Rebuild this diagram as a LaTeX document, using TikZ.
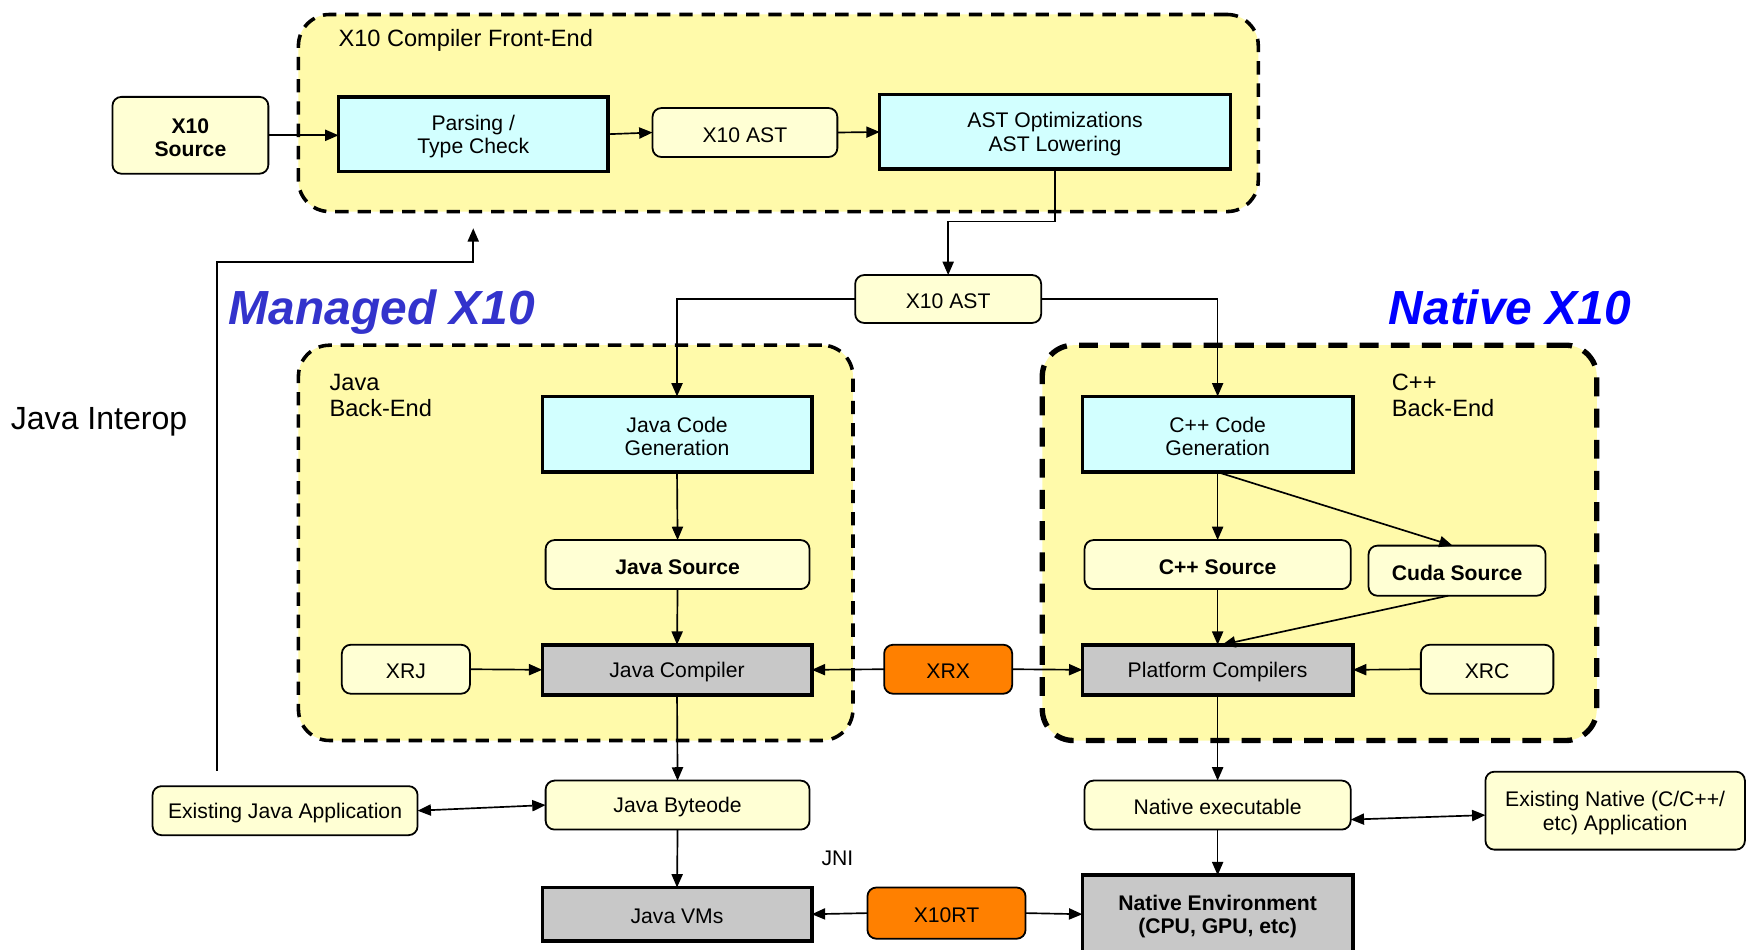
\documentclass[tikz,border=0pt]{standalone}
\usepackage{fontspec}
\setmainfont{Liberation Sans}
\usetikzlibrary{arrows.meta,calc}
\definecolor{contfill}{RGB}{255,250,170}
\definecolor{cream}{RGB}{255,255,212}
\definecolor{cyanfill}{RGB}{210,255,255}
\definecolor{grayfill}{RGB}{200,200,200}
\definecolor{orangefill}{RGB}{255,128,0}
\definecolor{managedblue}{RGB}{51,51,204}
\definecolor{nativeblue}{RGB}{0,0,255}
\newcommand\mybox[7]{%
  \node[#2, minimum width={(#5-#3)*0.5pt}, minimum height={(#6-#4)*0.5pt}]
    (#1) at ({(#3+#5)/2},{(#4+#6)/2}) {};
  \node[#2, draw=none, fill=none, minimum width=0pt, minimum height=0pt, yshift=-1pt]
    (#1-text) at (#1.center) {#7};}
\tikzset{
  every node/.style={inner sep=0pt, outer sep=0pt, align=center,
    font=\fontsize{9.5}{10.5}\selectfont},
  base/.style={draw=black, rectangle},
  creambox/.style={base, fill=cream, rounded corners=4pt, line width=0.8pt},
  creambold/.style={creambox, font=\fontsize{9.5}{10.5}\selectfont\bfseries},
  cyanbox/.style={base, fill=cyanfill, line width=1.6pt},
  graybox/.style={base, fill=grayfill, line width=1.6pt},
  graybold/.style={graybox, font=\fontsize{9.5}{10.5}\selectfont\bfseries},
  orangebox/.style={base, fill=orangefill, rounded corners=4pt, line width=0.8pt},
  container/.style={base, fill=contfill, rounded corners=14pt, line width=1.6pt,
    dash pattern=on 6pt off 4pt},
  containerthick/.style={base, fill=contfill, rounded corners=14pt, line width=2.4pt,
    dash pattern=on 8.5pt off 5.5pt},
  clabel/.style={font=\fontsize{10.6}{11.6}\selectfont, align=left},
  biglabel/.style={font=\fontsize{21.5}{24}\selectfont\bfseries\itshape, anchor=base},
  arr/.style={draw=black, line width=0.75pt, -{Triangle[length=6pt,width=5pt]}},
  dbl/.style={draw=black, line width=0.75pt, {Triangle[length=6pt,width=5pt]}-{Triangle[length=6pt,width=5pt]}},
}
\begin{document}
\begin{tikzpicture}[x=0.5pt,y=-0.5pt]
\useasboundingbox (0,0) rectangle (1568,853);
% containers
\mybox{frontc}{container}{268}{13}{1130}{190}{}
\mybox{javac}{container}{268}{310}{766}{665}{}
\mybox{cppc}{containerthick}{936}{310}{1434}{665}{}
% labels
\node[clabel, anchor=west] (lfront) at (304,36) {X10 Compiler Front-End};
\node[clabel, anchor=north west] (ljava) at (296,336) {Java\\Back-End};
\node[clabel, anchor=north west] (lcpp) at (1250,336) {C++\\Back-End};
\node[biglabel, text=managedblue] (lmanaged) at (343,291) {Managed X10};
\node[biglabel, text=nativeblue] (lnative) at (1356,291) {Native X10};
\node[font=\fontsize{14.4}{16}\selectfont] (linterop) at (89,379) {Java Interop};
\node (ljni) at (752,771) {JNI};
% boxes
\mybox{x10src}{creambold}{101}{87}{241}{156}{X10\\Source}
\mybox{parse}{cyanbox}{304}{87}{546}{154}{Parsing /\\Type Check}
\mybox{ast1}{creambox}{586}{97}{752}{141}{X10 AST}
\mybox{astopt}{cyanbox}{790}{85}{1105}{152}{AST Optimizations\\AST Lowering}
\mybox{ast2}{creambox}{768}{247}{935}{290}{X10 AST}
\mybox{javagen}{cyanbox}{487}{356}{729}{424}{Java Code\\Generation}
\mybox{cppgen}{cyanbox}{972}{356}{1215}{424}{C++ Code\\Generation}
\mybox{jsrc}{creambold}{490}{485}{727}{529}{Java Source}
\mybox{csrc}{creambold}{974}{485}{1213}{529}{C++ Source}
\mybox{cuda}{creambold}{1229}{490}{1388}{535}{Cuda Source}
\mybox{xrj}{creambox}{307}{579}{422}{623}{XRJ}
\mybox{jc}{graybox}{487}{579}{729}{624}{Java Compiler}
\mybox{xrx}{orangebox}{794}{579}{909}{623}{XRX}
\mybox{pc}{graybox}{972}{579}{1215}{624}{Platform Compilers}
\mybox{xrc}{creambox}{1276}{579}{1395}{623}{XRC}
\mybox{eja}{creambox}{137}{706}{375}{750}{Existing Java Application}
\mybox{jbyte}{creambox}{490}{701}{727}{745}{Java Byteode}
\mybox{nexe}{creambox}{974}{701}{1213}{745}{Native executable}
\mybox{enat}{creambox}{1334}{693}{1567}{763}{Existing Native (C/C++/\\etc) Application}
\mybox{jvm}{graybox}{487}{797}{729}{845}{Java VMs}
\mybox{x10rt}{orangebox}{779}{797}{921}{843}{X10RT}
\mybox{nenv}{graybold}{972}{786}{1215}{856}{Native Environment\\(CPU, GPU, etc)}
% connectors
\draw[arr] (x10src.east) -- (x10src.east -| parse.west);
\draw[arr] (parse.east) -- (ast1.west);
\draw[arr] (ast1.east) -- (astopt.west);
\draw[arr] (astopt.south) -- ++(0,47) -| (ast2.north);
\draw[arr] (ast2.west) -| (javagen.north);
\draw[arr] (ast2.east) -| (cppgen.north);
\draw[arr] (javagen.south) -- (jsrc.north);
\draw[arr] (jsrc.south) -- (jc.north);
\draw[arr] (xrj.east) -- (jc.west);
\draw[arr] (xrx.west) -- (jc.east);
\draw[arr] (xrx.east) -- (pc.west);
\draw[arr] (jc.south) -- (jbyte.north);
\draw[arr] (jbyte.south) -- (jvm.north);
\draw[dbl] (eja.east) -- (jbyte.west);
\draw[arr] (cppgen.south) -- ([xshift=-2pt]cuda.north);
\draw[arr] (cppgen.south) -- (csrc.north);
\draw[arr] (csrc.south) -- (pc.north);
\draw[arr] ([xshift=-4pt]cuda.south) -- ([xshift=2pt]pc.north);
\draw[arr] (xrc.west) -- (pc.east);
\draw[arr] (pc.south) -- (nexe.north);
\draw[dbl] ([yshift=-6.5pt]nexe.east) -- ([yshift=-2pt]enat.west);
\draw[arr] (nexe.south) -- (nenv.north);
\draw[arr] (x10rt.west) -- (jvm.east);
\draw[arr] (x10rt.east) -- (nenv.west);
\coordinate (jistart) at (195,692);
\coordinate (jiend) at (425,205);
\draw[arr] (jistart) |- (425,235) -- (jiend);
\end{tikzpicture}
\end{document}
